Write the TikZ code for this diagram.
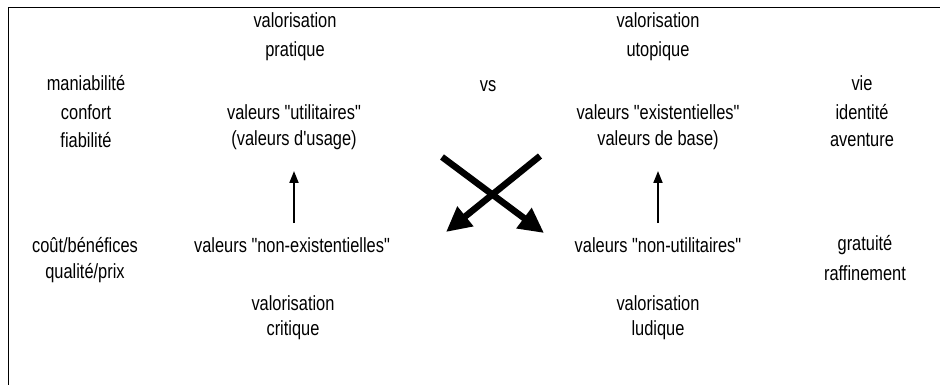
\documentclass[tikz,border=0pt]{standalone}
\usepackage{fontspec}
\setmainfont{Liberation Sans}[FakeStretch=0.8,Ligatures=TeXOff]
\usetikzlibrary{arrows.meta}
\begin{document}
\begin{tikzpicture}[x=1pt,y=-1pt,
  lbl/.style={font=\fontsize{20.5}{24}\selectfont, inner sep=0pt, anchor=center},
  bigarrow/.style={line width=6.5pt, -{Triangle[length=25pt,width=24pt]}},
  uparrow/.style={line width=1.8pt, -{Triangle[length=12pt,width=9pt]}}]
\useasboundingbox (0,0) rectangle (940,385);
\draw[line width=0.8pt] (8,385) -- (8,7) -- (940,7);
% top
\node[lbl] (vp1) at (295,20) {valorisation};
\node[lbl] (vp2) at (295,51) {pratique};
\node[lbl] (vu1) at (658,20) {valorisation};
\node[lbl] (vu2) at (658,51) {utopique};
\node[lbl] (vs) at (488,86) {vs};
% left column
\node[lbl] (l1) at (86,83) {maniabilité};
\node[lbl] (l2) at (86,112) {confort};
\node[lbl] (l3) at (86,140) {fiabilité};
% right column
\node[lbl] (r1) at (862,83) {vie};
\node[lbl] (r2) at (862,112) {identité};
\node[lbl] (r3) at (862,140) {aventure};
% middle values
\node[lbl] (vutil) at (294,112) {valeurs "utilitaires"};
\node[lbl] (vusage) at (294,140) {(valeurs d'usage)};
\node[lbl] (vexist) at (658,112) {valeurs "existentielles"};
\node[lbl] (vbase) at (658,140) {valeurs de base)};
\node[lbl] (vnonex) at (292,245) {valeurs "non-existentielles"};
\node[lbl] (vnonut) at (658,245) {valeurs "non-utilitaires"};
% bottom left/right
\node[lbl] (b1) at (85,245) {coût/bénéfices};
\node[lbl] (b2) at (85,273) {qualité/prix};
\node[lbl] (g1) at (865,245) {gratuité};
\node[lbl] (g2) at (865,273) {raffinement};
% bottom
\node[lbl] (vc1) at (293,303) {valorisation};
\node[lbl] (vc2) at (293,330) {critique};
\node[lbl] (vl1) at (658,303) {valorisation};
\node[lbl] (vl2) at (658,330) {ludique};
% arrows
\coordinate (a1s) at (540,156);
\coordinate (a1e) at (446,232);
\coordinate (a2s) at (442,157);
\coordinate (a2e) at (544,233);
\draw[bigarrow] (a1s) -- (a1e);
\draw[bigarrow] (a2s) -- (a2e);
\coordinate (u1s) at (294,223);
\coordinate (u1e) at (294,171);
\coordinate (u2s) at (658,223);
\coordinate (u2e) at (658,171);
\draw[uparrow] (u1s) -- (u1e);
\draw[uparrow] (u2s) -- (u2e);
\end{tikzpicture}
\end{document}
